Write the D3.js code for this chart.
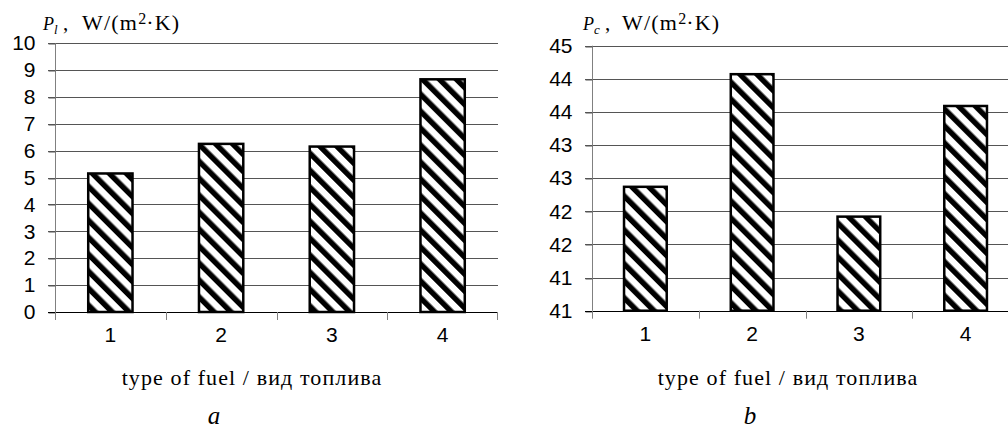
<!DOCTYPE html>
<html>
<head>
<meta charset="utf-8">
<script src="https://cdn.jsdelivr.net/npm/d3@7"></script>
<style>
  body { margin: 0; background: #fff; }
  svg { display: block; }
</style>
</head>
<body>
<svg id="chart" width="1008" height="437"></svg>
<script>
// fuel types on the x axis
const fuelTypes = ['1', '2', '3', '4'];

// panel a: P_l, W/(m2 K)
const plValues = [5.15, 6.25, 6.15, 8.65];
const plTicks = [0, 1, 2, 3, 4, 5, 6, 7, 8, 9, 10];
const plTickLabels = ['0', '1', '2', '3', '4', '5', '6', '7', '8', '9', '10'];

// panel b: P_c, W/(m2 K)
const pcValues = [42.87, 44.57, 42.42, 44.09];
const pcTicks = [41, 41.5, 42, 42.5, 43, 43.5, 44, 44.5, 45];
const pcTickLabels = ['41', '41', '42', '42', '43', '43', '44', '44', '45'];

const svg = d3.select('#chart');

// hatch pattern "\\\"
const defs = svg.append('defs');
const pat = defs.append('pattern')
    .attr('id', 'hatch')
    .attr('patternUnits', 'userSpaceOnUse')
    .attr('width', 12)
    .attr('height', 12)
    .attr('patternTransform', 'rotate(-45)');
pat.append('rect').attr('width', 12).attr('height', 12).attr('fill', '#fff');
pat.append('rect').attr('width', 5.5).attr('height', 12).attr('fill', '#000');

function drawPanel(opts) {
    const g = svg.append('g');

    const x = d3.scaleBand()
        .domain(fuelTypes)
        .range([opts.left, opts.right])
        .padding(0);

    const y = d3.scaleLinear()
        .domain(opts.domain)
        .range([opts.bottom, opts.top]);

    // gridlines
    g.append('g')
        .selectAll('line')
        .data(opts.ticks.slice(1))
        .enter().append('line')
        .attr('x1', opts.left - 7)
        .attr('x2', opts.right)
        .attr('y1', d => Math.round(y(d)) + 0.5)
        .attr('y2', d => Math.round(y(d)) + 0.5)
        .attr('stroke', '#555')
        .attr('stroke-width', 1);

    // y axis
    const yAxis = g.append('g')
        .attr('transform', 'translate(' + (Math.round(opts.left) + 0.5) + ',0)')
        .call(d3.axisLeft(y)
            .tickValues(opts.ticks)
            .tickSize(7)
            .tickPadding(13)
            .tickFormat((d, i) => opts.tickLabels[i]));
    yAxis.select('.domain').attr('stroke', '#808080').attr('d',
        'M0,' + y(opts.domain[0]) + 'V' + y(opts.domain[1]));
    yAxis.selectAll('.tick line').attr('stroke', '#555')
        .attr('transform', d => 'translate(0,' + (Math.round(y(d)) + 0.5 - y(d)) + ')');
    yAxis.selectAll('text')
        .attr('font-family', 'Liberation Sans, Arial, sans-serif')
        .attr('font-size', 21)
        .attr('fill', '#000');

    // x axis
    const xAxis = g.append('g')
        .attr('transform', 'translate(0,' + (Math.round(opts.bottom) + 0.5) + ')')
        .call(d3.axisBottom(x).tickSize(0).tickPadding(15));
    xAxis.select('.domain').attr('stroke', '#000').attr('d',
        'M' + (opts.left - 7) + ',0H' + opts.right);
    xAxis.selectAll('text')
        .attr('font-family', 'Liberation Sans, Arial, sans-serif')
        .attr('font-size', 21)
        .attr('fill', '#000');

    // category separators
    g.append('g')
        .selectAll('line')
        .data(fuelTypes)
        .enter().append('line')
        .attr('x1', d => Math.round(x(d)) + 0.5)
        .attr('x2', d => Math.round(x(d)) + 0.5)
        .attr('y1', opts.bottom)
        .attr('y2', opts.bottom + 8)
        .attr('stroke', '#808080');
    g.append('line')
        .attr('x1', opts.right - 0.5).attr('x2', opts.right - 0.5)
        .attr('y1', opts.bottom).attr('y2', opts.bottom + 8)
        .attr('stroke', '#808080');

    // bars
    const bw = x.bandwidth() * 0.4;
    g.append('g')
        .selectAll('rect')
        .data(opts.values)
        .enter().append('rect')
        .attr('x', (d, i) => x(fuelTypes[i]) + (x.bandwidth() - bw) / 2)
        .attr('y', d => y(d))
        .attr('width', bw)
        .attr('height', d => y(opts.domain[0]) - y(d))
        .attr('fill', 'url(#hatch)')
        .attr('stroke', '#000')
        .attr('stroke-width', 2.5);

    // axis title
    const t = g.append('text')
        .attr('x', opts.titleX)
        .attr('y', 30)
        .attr('font-family', 'Liberation Serif, Times New Roman, serif')
        .attr('fill', '#000');
    t.append('tspan').attr('font-style', 'italic').attr('font-size', 18).text('P');
    t.append('tspan').attr('font-style', 'italic').attr('font-size', 13).attr('dy', 4).text(opts.sub);
    t.append('tspan').attr('font-size', 21).attr('dy', -4).text(' ,');
    t.append('tspan').attr('x', opts.titleX + 39).attr('font-size', 22)
        .attr('letter-spacing', 1.2).text('W/(m');
    t.append('tspan').attr('font-size', 16).attr('dy', -6).text('2');
    t.append('tspan').attr('font-size', 22).attr('dy', 6)
        .attr('letter-spacing', 1.2).text('·K)');

    // x label and panel letter
    g.append('text')
        .attr('x', opts.labelX)
        .attr('y', 385)
        .attr('text-anchor', 'middle')
        .attr('font-family', 'Liberation Serif, Times New Roman, serif')
        .attr('font-size', 22)
        .attr('letter-spacing', 1.1)
        .attr('fill', '#000')
        .text('type of fuel / вид топлива');
    g.append('text')
        .attr('x', opts.labelX - 38)
        .attr('y', 424)
        .attr('text-anchor', 'middle')
        .attr('font-family', 'Liberation Serif, Times New Roman, serif')
        .attr('font-style', 'italic')
        .attr('font-size', 25)
        .attr('fill', '#000')
        .text(opts.letter);
}

drawPanel({
    left: 55, right: 498, top: 43, bottom: 312,
    domain: [0, 10], ticks: plTicks, tickLabels: plTickLabels,
    values: plValues, sub: 'l', titleX: 43, labelX: 252, letter: 'a'
});

drawPanel({
    left: 592, right: 1019, top: 45.7, bottom: 310.7,
    domain: [41, 45], ticks: pcTicks, tickLabels: pcTickLabels,
    values: pcValues, sub: 'c', titleX: 583, labelX: 788, letter: 'b'
});
</script>
</body>
</html>
